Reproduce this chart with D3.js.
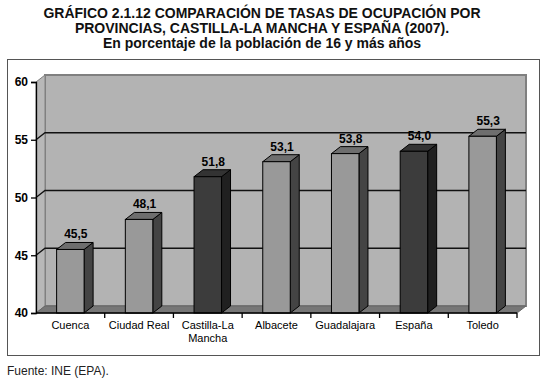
<!DOCTYPE html>
<html>
<head>
<meta charset="utf-8">
<script src="https://cdn.jsdelivr.net/npm/d3@7"></script>
<style>
  body { margin: 0; background: #fff; }
  text { font-family: "Liberation Sans", Arial, sans-serif; }
</style>
</head>
<body>
<script>
// Chart data
var categories = ["Cuenca", "Ciudad Real", "Castilla-La Mancha", "Albacete", "Guadalajara", "España", "Toledo"];
var values = [45.5, 48.1, 51.8, 53.1, 53.8, 54.0, 55.3];
var highlight = ["Castilla-La Mancha", "España"];
var yTicks = [40, 45, 50, 55, 60];
var titleLines = [
  "GRÁFICO 2.1.12 COMPARACIÓN DE TASAS DE OCUPACIÓN POR",
  "PROVINCIAS, CASTILLA-LA MANCHA Y ESPAÑA (2007).",
  "En porcentaje de la población de 16 y más años"
];

var svgWidth = 550, svgHeight = 381;
var dx = 9, dy = -7; // 3d depth offset

var svg = d3.select("body").append("svg")
  .attr("width", svgWidth)
  .attr("height", svgHeight);

// titles
svg.selectAll(".title")
  .data(titleLines)
  .enter().append("text")
  .attr("x", 262)
  .attr("y", (d, i) => 18 + i * 15)
  .attr("text-anchor", "middle")
  .style("font-size", "14px")
  .style("font-weight", "bold")
  .attr("fill", "#111")
  .text(d => d);

// outer frame
svg.append("rect")
  .attr("x", 7.5).attr("y", 59.5)
  .attr("width", 532).attr("height", 296)
  .attr("fill", "none")
  .attr("stroke", "#555")
  .attr("stroke-width", 1);

var x = d3.scaleBand()
  .domain(categories)
  .range([36, 517])
  .paddingInner(0.6)
  .paddingOuter(0.3);

var y = d3.scaleLinear()
  .domain([40, 60])
  .range([313, 82]);

var x0 = x.range()[0], x1 = x.range()[1];
var yTop = y(60), yBot = y(40);

// back wall
svg.append("rect")
  .attr("x", x0 + dx).attr("y", yTop + dy)
  .attr("width", x1 - x0).attr("height", yBot - yTop)
  .attr("fill", "#b3b3b3")
  .attr("stroke", "#808080")
  .attr("stroke-width", 2);

// left side wall
svg.append("path")
  .attr("d", `M${x0},${yTop}L${x0 + dx},${yTop + dy}L${x0 + dx},${yBot + dy}L${x0},${yBot}Z`)
  .attr("fill", "#b8b8b8")
  .attr("stroke", "#808080");

// floor
svg.append("path")
  .attr("d", `M${x0},${yBot}L${x0 + dx},${yBot + dy}L${x1 + dx},${yBot + dy}L${x1},${yBot}Z`)
  .attr("fill", "#777")
  .attr("stroke", "#666");

// gridlines on walls
var grid = yTicks.filter(t => t > 40 && t < 60);
grid.forEach(function (t) {
  svg.append("path")
    .attr("d", `M${x0},${y(t)}L${x0 + dx},${y(t) + dy}L${x1 + dx},${y(t) + dy}`)
    .attr("fill", "none")
    .attr("stroke", "#111")
    .attr("stroke-width", 1.3);
});

// bars
var bars = svg.selectAll(".bar")
  .data(categories)
  .enter().append("g")
  .attr("class", "bar");

var w = x.bandwidth();
bars.each(function (c, i) {
  var g = d3.select(this);
  var bx = x(c), by = y(values[i]);
  var dark = highlight.indexOf(c) >= 0;
  var front = dark ? "#3c3c3c" : "#999999";
  var side = dark ? "#202020" : "#444444";
  var top = dark ? "#333333" : "#6e6e6e";
  g.append("path")
    .attr("d", `M${bx + w},${by}L${bx + w + dx},${by + dy}L${bx + w + dx},${yBot + dy}L${bx + w},${yBot}Z`)
    .attr("fill", side).attr("stroke", "#000").attr("stroke-width", 1);
  g.append("path")
    .attr("d", `M${bx},${by}L${bx + dx},${by + dy}L${bx + w + dx},${by + dy}L${bx + w},${by}Z`)
    .attr("fill", top).attr("stroke", "#000").attr("stroke-width", 1);
  g.append("rect")
    .attr("x", bx).attr("y", by)
    .attr("width", w).attr("height", yBot - by)
    .attr("fill", front).attr("stroke", "#000").attr("stroke-width", 1);
  g.append("text")
    .attr("x", bx + w / 2 + dx / 2 + 1)
    .attr("y", by + dy - 4)
    .attr("text-anchor", "middle")
    .style("font-size", "12px")
    .style("font-weight", "bold")
    .attr("fill", "#000")
    .text(d3.format(".1f")(values[i]).replace(".", ","));
});

// y axis
var leftAxis = d3.axisLeft(y).tickValues(yTicks).tickSize(5).tickPadding(3);
var ya = svg.append("g")
  .attr("transform", `translate(${x0},0)`)
  .call(leftAxis);
ya.select(".domain").attr("stroke", "#000").attr("stroke-width", 1.3);
ya.selectAll(".tick line").attr("stroke", "#000").attr("stroke-width", 1.3);
ya.selectAll("text")
  .style("font-size", "12px")
  .style("font-weight", "bold")
  .style("font-family", "Liberation Sans, Arial, sans-serif")
  .attr("fill", "#000");

// x axis line and ticks at band edges
svg.append("line")
  .attr("x1", x0).attr("x2", x1)
  .attr("y1", yBot).attr("y2", yBot)
  .attr("stroke", "#000").attr("stroke-width", 1.3);
var edges = categories.map(c => x(c) - x.step() * x.paddingInner() / 2).slice(1).concat([x1]);
svg.selectAll(".xtick")
  .data(edges)
  .enter().append("line")
  .attr("x1", d => d).attr("x2", d => d)
  .attr("y1", yBot).attr("y2", yBot + 5)
  .attr("stroke", "#000").attr("stroke-width", 1.3);

// category labels
svg.selectAll(".cat")
  .data(categories)
  .enter().append("text")
  .attr("text-anchor", "middle")
  .style("font-size", "11px")
  .attr("fill", "#000")
  .each(function (c) {
    var lines = c === "Castilla-La Mancha" ? ["Castilla-La", "Mancha"] : [c];
    var t = d3.select(this);
    lines.forEach(function (l, j) {
      t.append("tspan")
        .attr("x", x(c) + w / 2)
        .attr("y", 329 + j * 13)
        .text(l);
    });
  });

// source
svg.append("text")
  .attr("x", 7)
  .attr("y", 375)
  .style("font-size", "12px")
  .attr("fill", "#222")
  .text("Fuente: INE (EPA).");
</script>
</body>
</html>
